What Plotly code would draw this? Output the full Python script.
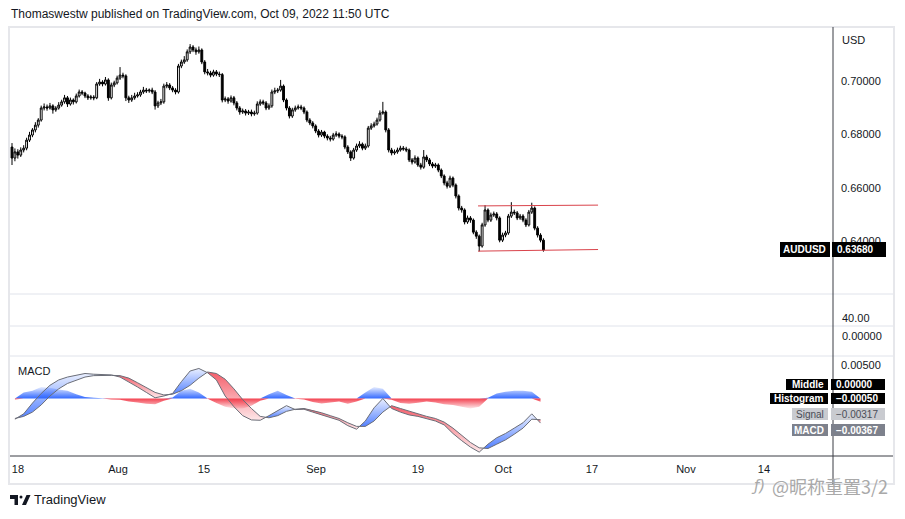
import plotly.graph_objects as go
from plotly.subplots import make_subplots

# AUDUSD, 3 candles per trading day (15 Jul - 7 Oct 2022), prices in pips (x 1e-4)
candle_open = [
    6753, 6712, 6735, 6723, 6742, 6749, 6779, 6798, 6817, 6835,
    6854, 6899, 6903, 6899, 6907, 6892, 6899, 6910, 6922, 6937,
    6914, 6929, 6922, 6944, 6959, 6955, 6944, 6937, 6940, 6937,
    6989, 6996, 6989, 7004, 6937, 6985, 6993, 7011, 7022, 7019,
    6937, 6929, 6937, 6944, 6948, 6959, 6966, 6963, 6966, 6959,
    6907, 6918, 6922, 6981, 6985, 6974, 6966, 6959, 7056, 7071,
    7079, 7109, 7127, 7116, 7109, 7116, 7071, 7034, 7030, 7022,
    7034, 7026, 7024, 6929, 6933, 6925, 6937, 6918, 6899, 6884,
    6888, 6880, 6884, 6877, 6880, 6914, 6922, 6918, 6899, 6907,
    6959, 6963, 6966, 6981, 6929, 6899, 6869, 6892, 6899, 6903,
    6899, 6884, 6854, 6843, 6832, 6813, 6798, 6809, 6794, 6787,
    6783, 6798, 6802, 6794, 6791, 6753, 6735, 6712, 6742, 6757,
    6764, 6749, 6757, 6824, 6832, 6839, 6854, 6880, 6884, 6817,
    6742, 6731, 6735, 6742, 6749, 6746, 6742, 6705, 6697, 6712,
    6686, 6678, 6716, 6705, 6690, 6682, 6686, 6667, 6645, 6619,
    6607, 6637, 6611, 6570, 6525, 6518, 6473, 6488, 6480, 6435,
    6420, 6383, 6462, 6518, 6480, 6499, 6503, 6488, 6405, 6424,
    6432, 6495, 6510, 6507, 6488, 6495, 6480, 6462, 6510, 6525,
    6450, 6424, 6405,
]
candle_high = [
    6768, 6748, 6745, 6752, 6760, 6788, 6810, 6824, 6846, 6861,
    6908, 6916, 6912, 6918, 6913, 6906, 6921, 6930, 6948, 6944,
    6938, 6935, 6953, 6968, 6966, 6960, 6951, 6948, 6947, 6996,
    7008, 7003, 7015, 7010, 6994, 7001, 7020, 7052, 7031, 7025,
    6945, 6948, 6956, 6958, 6967, 6978, 6974, 6972, 6975, 6966,
    6926, 6933, 6990, 6996, 6992, 6981, 6973, 7064, 7080, 7093,
    7118, 7138, 7134, 7125, 7129, 7122, 7078, 7045, 7038, 7042,
    7041, 7035, 7030, 6942, 6940, 6946, 6944, 6925, 6906, 6897,
    6895, 6892, 6893, 6889, 6924, 6931, 6930, 6925, 6916, 6968,
    6975, 6974, 7004, 6987, 6935, 6906, 6900, 6908, 6912, 6911,
    6905, 6890, 6861, 6850, 6838, 6820, 6817, 6814, 6801, 6795,
    6806, 6812, 6808, 6801, 6797, 6760, 6741, 6750, 6766, 6775,
    6770, 6766, 6832, 6842, 6848, 6863, 6890, 6922, 6890, 6824,
    6750, 6744, 6751, 6758, 6757, 6754, 6748, 6712, 6722, 6718,
    6694, 6742, 6724, 6712, 6697, 6694, 6692, 6673, 6651, 6627,
    6646, 6643, 6617, 6576, 6533, 6524, 6497, 6495, 6486, 6442,
    6426, 6470, 6536, 6524, 6508, 6512, 6510, 6494, 6433, 6440,
    6503, 6547, 6519, 6514, 6503, 6502, 6487, 6518, 6545, 6531,
    6457, 6431, 6412,
]
candle_low = [
    6686, 6700, 6710, 6716, 6733, 6741, 6772, 6790, 6808, 6826,
    6848, 6890, 6889, 6893, 6878, 6885, 6893, 6904, 6915, 6903,
    6908, 6912, 6916, 6938, 6947, 6936, 6929, 6930, 6928, 6932,
    6982, 6980, 6983, 6926, 6931, 6977, 6987, 7004, 7010, 6925,
    6918, 6922, 6930, 6938, 6941, 6952, 6955, 6956, 6951, 6893,
    6899, 6910, 6915, 6973, 6966, 6958, 6950, 6953, 7048, 7064,
    7072, 7101, 7108, 7098, 7102, 7063, 7025, 7021, 7014, 7016,
    7018, 7015, 6920, 6921, 6915, 6919, 6909, 6890, 6874, 6877,
    6871, 6873, 6868, 6870, 6874, 6907, 6910, 6891, 6892, 6900,
    6951, 6955, 6960, 6921, 6890, 6860, 6862, 6885, 6893, 6891,
    6876, 6846, 6835, 6823, 6805, 6789, 6791, 6786, 6778, 6774,
    6777, 6791, 6786, 6782, 6745, 6727, 6701, 6706, 6735, 6750,
    6741, 6742, 6751, 6817, 6826, 6833, 6848, 6874, 6808, 6733,
    6722, 6724, 6728, 6736, 6739, 6734, 6697, 6688, 6691, 6679,
    6669, 6672, 6697, 6682, 6674, 6675, 6659, 6637, 6610, 6598,
    6600, 6603, 6561, 6516, 6508, 6464, 6466, 6470, 6427, 6410,
    6363, 6377, 6455, 6472, 6473, 6492, 6479, 6397, 6398, 6416,
    6425, 6488, 6499, 6480, 6481, 6472, 6454, 6456, 6503, 6442,
    6415, 6397, 6362,
]
candle_close = [
    6712, 6735, 6723, 6742, 6749, 6779, 6798, 6817, 6835, 6854,
    6899, 6903, 6899, 6907, 6892, 6899, 6910, 6922, 6937, 6914,
    6929, 6922, 6944, 6959, 6955, 6944, 6937, 6940, 6937, 6989,
    6996, 6989, 7004, 6937, 6985, 6993, 7011, 7022, 7019, 6937,
    6929, 6937, 6944, 6948, 6959, 6966, 6963, 6966, 6959, 6907,
    6918, 6922, 6981, 6985, 6974, 6966, 6959, 7056, 7071, 7079,
    7109, 7127, 7116, 7109, 7116, 7071, 7034, 7030, 7022, 7034,
    7026, 7024, 6929, 6933, 6925, 6937, 6918, 6899, 6884, 6888,
    6880, 6884, 6877, 6880, 6914, 6922, 6918, 6899, 6907, 6959,
    6963, 6966, 6981, 6929, 6899, 6869, 6892, 6899, 6903, 6899,
    6884, 6854, 6843, 6832, 6813, 6798, 6809, 6794, 6787, 6783,
    6798, 6802, 6794, 6791, 6753, 6735, 6712, 6742, 6757, 6764,
    6749, 6757, 6824, 6832, 6839, 6854, 6880, 6884, 6817, 6742,
    6731, 6735, 6742, 6749, 6746, 6742, 6705, 6697, 6712, 6686,
    6678, 6716, 6705, 6690, 6682, 6686, 6667, 6645, 6619, 6607,
    6637, 6611, 6570, 6525, 6518, 6473, 6488, 6480, 6435, 6420,
    6383, 6462, 6518, 6480, 6499, 6503, 6488, 6405, 6424, 6432,
    6495, 6510, 6507, 6488, 6495, 6480, 6462, 6510, 6525, 6450,
    6424, 6405, 6368,
]

# MACD panel, one value per trading day
macd_line = [
    -0.00309, -0.00229, -0.00069, 0.00075, 0.00197, 0.00277, 0.00320, 0.00352, 0.00373, 0.00362,
    0.00357, 0.00352, 0.00320, 0.00251, 0.00171, 0.00091, 0.00011, 0.00037, 0.00075, 0.00251,
    0.00410, 0.00448, 0.00384, 0.00277, 0.00037, -0.00123, -0.00256, -0.00320, -0.00325, -0.00256,
    -0.00176, -0.00107, -0.00165, -0.00160, -0.00203, -0.00245, -0.00282, -0.00325, -0.00405, -0.00458,
    -0.00336, -0.00139, 0.00000, -0.00149, -0.00203, -0.00245, -0.00267, -0.00298, -0.00336, -0.00394,
    -0.00522, -0.00629, -0.00725, -0.00800, -0.00682, -0.00586, -0.00522, -0.00442, -0.00362, -0.00229,
    -0.00367,
]
signal_line = [
    -0.00298, -0.00267, -0.00203, -0.00096, 0.00037, 0.00144, 0.00224, 0.00277, 0.00320, 0.00341,
    0.00346, 0.00345, 0.00341, 0.00304, 0.00235, 0.00160, 0.00091, 0.00053, 0.00064, 0.00117,
    0.00197, 0.00304, 0.00395, 0.00373, 0.00288, 0.00144, -0.00016, -0.00149, -0.00267, -0.00288,
    -0.00256, -0.00192, -0.00160, -0.00149, -0.00176, -0.00213, -0.00256, -0.00298, -0.00362, -0.00416,
    -0.00416, -0.00336, -0.00203, -0.00107, -0.00149, -0.00192, -0.00229, -0.00267, -0.00298, -0.00352,
    -0.00442, -0.00549, -0.00656, -0.00736, -0.00746, -0.00682, -0.00618, -0.00533, -0.00442, -0.00309,
    -0.00317,
]
histogram = [
    -0.00015, 0.00090, 0.00117, 0.00170, 0.00160, 0.00133, 0.00117, 0.00064, 0.00021, 0.00010,
    0.00003, -0.00015, -0.00020, -0.00043, -0.00059, -0.00080, -0.00085, -0.00032, 0.00015, 0.00117,
    0.00144, 0.00090, -0.00005, -0.00069, -0.00123, -0.00149, -0.00149, -0.00107, -0.00032, 0.00064,
    0.00117, 0.00053, -0.00005, -0.00015, -0.00053, -0.00075, -0.00059, -0.00043, -0.00080, -0.00043,
    0.00090, 0.00170, 0.00144, -0.00020, -0.00069, -0.00080, -0.00064, -0.00043, -0.00059, -0.00085,
    -0.00096, -0.00123, -0.00149, -0.00123, 0.00010, 0.00075, 0.00101, 0.00117, 0.00117, 0.00101,
    -0.00050,
]

# consolidation channel drawn by the author (candle index, price)
channel_x = [159.6, 200.7]
channel_top = [0.6533, 0.6536]
channel_bottom = [0.6364, 0.6370]

time_ticks = [2.05, 36.3, 65.75, 104.1, 139.0, 168.2, 198.6, 230.8, 257.5]
time_labels = ["18", "Aug", "15", "Sep", "19", "Oct", "17", "Nov", "14"]
price_ticks = [0.64, 0.66, 0.68, 0.70]

# the page body adds an 8px margin, so the figure is 16px smaller than the window
PAGE = 8
W, H = 905 - 2 * PAGE, 519 - 2 * PAGE
L, R, T, B = 10, 833, 28, 456          # plot area in window pixels
PW, PH = R - L, B - T
FONT = "Liberation Sans"
INK = "#131722"


def px(x):
    return (x - L) / PW


def py(y):
    return (B - y) / PH


fig = make_subplots(
    rows=4, cols=1, shared_xaxes=True, vertical_spacing=0,
    row_heights=[266, 32, 30, 100]
)

idx = list(range(len(candle_close)))
fig.add_trace(go.Candlestick(
    x=idx,
    open=[v / 10000 for v in candle_open],
    high=[v / 10000 for v in candle_high],
    low=[v / 10000 for v in candle_low],
    close=[v / 10000 for v in candle_close],
    increasing=dict(fillcolor="#ffffff", line=dict(color="#000000", width=1)),
    decreasing=dict(fillcolor="#000000", line=dict(color="#000000", width=1)),
    hoverinfo="skip", showlegend=False
), row=1, col=1)

for ys in (channel_top, channel_bottom):
    fig.add_trace(go.Scatter(
        x=channel_x, y=ys, mode="lines",
        line=dict(color="#d9434b", width=1),
        hoverinfo="skip", showlegend=False
    ), row=1, col=1)

# MACD panel
mx = [3 * d + 1 for d in range(len(macd_line))]

hist_pos = [max(h, 0) for h in histogram]
hist_neg = [min(h, 0) for h in histogram]
fig.add_trace(go.Scatter(
    x=mx, y=hist_pos, mode="none", fill="tozeroy",
    fillgradient=dict(type="vertical", colorscale=[[0, "rgba(41,98,255,0.95)"], [1, "rgba(41,98,255,0.12)"]]),
    hoverinfo="skip", showlegend=False
), row=4, col=1)
fig.add_trace(go.Scatter(
    x=mx, y=hist_neg, mode="none", fill="tozeroy",
    fillgradient=dict(type="vertical", colorscale=[[0, "rgba(242,54,69,0.12)"], [1, "rgba(242,54,69,0.95)"]]),
    hoverinfo="skip", showlegend=False
), row=4, col=1)

# ribbon between MACD and signal, split where they cross
runs = []
cur = {"x": [mx[0]], "m": [macd_line[0]], "s": [signal_line[0]], "up": macd_line[0] >= signal_line[0]}
for k in range(1, len(mx)):
    d0 = macd_line[k - 1] - signal_line[k - 1]
    d1 = macd_line[k] - signal_line[k]
    if (d0 >= 0) != (d1 >= 0):
        t = d0 / (d0 - d1)
        xc = mx[k - 1] + t * (mx[k] - mx[k - 1])
        yc = macd_line[k - 1] + t * (macd_line[k] - macd_line[k - 1])
        cur["x"].append(xc)
        cur["m"].append(yc)
        cur["s"].append(yc)
        runs.append(cur)
        cur = {"x": [xc], "m": [yc], "s": [yc], "up": d1 >= 0}
    cur["x"].append(mx[k])
    cur["m"].append(macd_line[k])
    cur["s"].append(signal_line[k])
runs.append(cur)

for run in runs:
    if run["up"]:
        scale = [[0, "rgba(41,98,255,0.8)"], [1, "rgba(41,98,255,0.1)"]]
    else:
        scale = [[0, "rgba(242,54,69,0.12)"], [1, "rgba(242,54,69,0.8)"]]
    fig.add_trace(go.Scatter(
        x=run["x"] + run["x"][::-1], y=run["m"] + run["s"][::-1],
        mode="none", fill="toself",
        fillgradient=dict(type="vertical", colorscale=scale),
        hoverinfo="skip", showlegend=False
    ), row=4, col=1)

for ys in (signal_line, macd_line):
    fig.add_trace(go.Scatter(
        x=mx, y=ys, mode="lines", line=dict(color="#6b6e78", width=1),
        hoverinfo="skip", showlegend=False
    ), row=4, col=1)

fig.update_xaxes(
    range=[-0.685, 281.16], showgrid=False, zeroline=False, showline=False,
    showticklabels=False, rangeslider_visible=False, fixedrange=True
)
fig.update_xaxes(
    showticklabels=True, tickvals=time_ticks, ticktext=time_labels,
    ticks="", ticklabelstandoff=5,
    tickfont=dict(family=FONT, size=11, color=INK), row=4, col=1
)
fig.update_yaxes(showgrid=False, zeroline=False, showline=False, showticklabels=False, side="right")
fig.update_yaxes(
    range=[0.620374, 0.719813], tickvals=price_ticks, tickformat=".5f",
    showticklabels=True, ticks="", ticklabelstandoff=7,
    tickfont=dict(family=FONT, size=11, color=INK), row=1, col=1
)
fig.update_yaxes(
    range=[-0.00858, 0.00634], tickvals=[0.005], tickformat=".5f",
    showticklabels=True, ticks="", ticklabelstandoff=7,
    tickfont=dict(family=FONT, size=11, color=INK), row=4, col=1
)

shapes = []
# outer frame
shapes.append(dict(type="rect", xref="paper", yref="paper", x0=px(9), x1=px(894), y0=py(27), y1=py(484),
                   line=dict(color="#e6e7eb", width=2), layer="below"))
# pane separators
for yy in (294, 326, 356):
    shapes.append(dict(type="line", xref="paper", yref="paper", x0=px(10), x1=px(893), y0=py(yy), y1=py(yy),
                       line=dict(color="#e0e3eb", width=1), layer="above"))
# axes
shapes.append(dict(type="line", xref="paper", yref="paper", x0=px(10), x1=px(893), y0=py(456), y1=py(456),
                   line=dict(color="#3a3d45", width=1), layer="above"))
shapes.append(dict(type="line", xref="paper", yref="paper", x0=px(833), x1=px(833), y0=py(27), y1=py(484),
                   line=dict(color="#3a3d45", width=1), layer="above"))

annotations = []


def label_box(text, x0, x1, y0, y1, bg, fg, bold, align_right):
    shapes.append(dict(type="rect", xref="paper", yref="paper", x0=px(x0), x1=px(x1), y0=py(y1), y1=py(y0),
                       fillcolor=bg, line=dict(width=0), layer="above"))
    annotations.append(dict(
        text=f"<b>{text}</b>" if bold else text, xref="paper", yref="paper",
        x=px(x1 - 2) if align_right else px(x0 + 3), y=py((y0 + y1) / 2),
        xanchor="right" if align_right else "left", yanchor="middle", showarrow=False,
        font=dict(family=FONT, size=10, color=fg)
    ))


label_box("AUDUSD", 780, 830, 242, 257, "#000000", "#ffffff", True, True)
label_box("0.63680", 832, 886, 242, 257, "#000000", "#ffffff", True, False)
label_box("Middle", 786, 828, 379, 390, "#000000", "#ffffff", True, True)
label_box("0.00000", 831, 885, 379, 390, "#000000", "#ffffff", True, False)
label_box("Histogram", 770, 828, 393, 404, "#000000", "#ffffff", True, True)
label_box("\u22120.00050", 831, 885, 393, 404, "#000000", "#ffffff", True, False)
label_box("Signal", 792, 828, 408, 420, "#c9cbd0", "#4a4d57", False, True)
label_box("\u22120.00317", 831, 885, 408, 420, "#c9cbd0", "#4a4d57", False, False)
label_box("MACD", 792, 828, 424, 436, "#7d818c", "#ffffff", True, True)
label_box("\u22120.00367", 831, 885, 424, 436, "#7d818c", "#ffffff", True, False)


def note(text, x, y, size=11, color=INK, anchor="left", family=FONT):
    annotations.append(dict(
        text=text, xref="paper", yref="paper", x=px(x), y=py(y),
        xanchor=anchor, yanchor="middle", showarrow=False,
        font=dict(family=family, size=size, color=color)
    ))


note("Thomaswestw published on TradingView.com, Oct 09, 2022 11:50 UTC", 9, 14, size=12)
note("USD", 840, 40)
note("40.00", 840, 318)
note("0.00000", 840, 336)
note("MACD", 16, 371)
note("TradingView", 32, 500, size=13)
note("<i>ƒ)</i>", 749, 486, size=15, color="#a9a9a9", family="DejaVu Sans")
note("@昵称重置3/2", 770, 486, size=18, color="#a9a9a9", family="Noto Sans CJK SC")

# TradingView logo mark
shapes.append(dict(type="rect", xref="paper", yref="paper", x0=px(10), x1=px(18), y0=py(499), y1=py(495),
                   fillcolor="#131722", line=dict(width=0)))
shapes.append(dict(type="rect", xref="paper", yref="paper", x0=px(14.5), x1=px(18), y0=py(505), y1=py(495),
                   fillcolor="#131722", line=dict(width=0)))
shapes.append(dict(type="circle", xref="paper", yref="paper", x0=px(19.5), x1=px(22.5), y0=py(498.5), y1=py(495.5),
                   fillcolor="#131722", line=dict(width=0)))
logo_pts = [(22, 505), (26, 505), (30.5, 495), (26.5, 495)]
path = "M " + " L ".join(f"{px(a):.5f},{py(b):.5f}" for a, b in logo_pts) + " Z"
shapes.append(dict(type="path", xref="paper", yref="paper", path=path,
                   fillcolor="#131722", line=dict(width=0)))

fig.update_layout(
    width=W, height=H,
    margin=dict(l=L - PAGE, r=W - (R - PAGE), t=T - PAGE, b=H - (B - PAGE)),
    paper_bgcolor="#ffffff", plot_bgcolor="#ffffff",
    showlegend=False, hovermode=False, boxgap=0.1,
    shapes=shapes, annotations=annotations,
    font=dict(family=FONT, size=11, color=INK)
)

fig.write_html("out.html")
